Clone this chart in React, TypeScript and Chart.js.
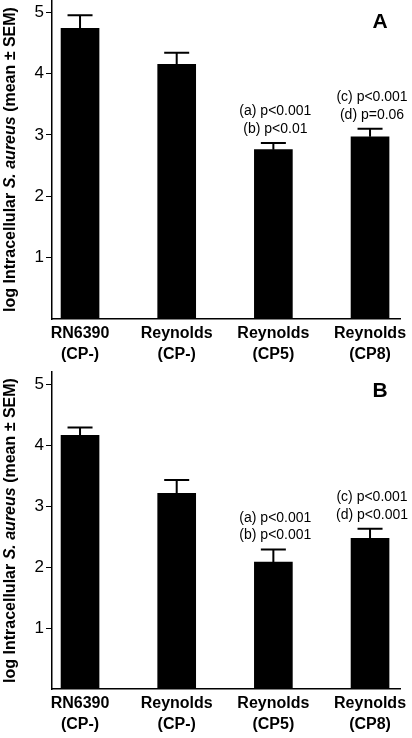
import React, { useEffect, useRef } from "react";
import { Chart, registerables } from "chart.js";

Chart.register(...registerables);

const categories: string[][] = [
  ["RN6390", "(CP-)"],
  ["Reynolds", "(CP-)"],
  ["Reynolds", "(CP5)"],
  ["Reynolds", "(CP8)"],
];
const meansA = [4.74, 4.15, 2.76, 2.97];
const semTopA = [4.95, 4.34, 2.87, 3.1];
const meansB = [4.16, 3.21, 2.08, 2.47];
const semTopB = [4.29, 3.43, 2.29, 2.63];
const yTicks = [1, 2, 3, 4, 5];
const notesA: string[][] = [[], [], ["(a) p<0.001", "(b) p<0.01"], ["(c) p<0.001", "(d) p=0.06"]];
const notesB: string[][] = [[], [], ["(a) p<0.001", "(b) p<0.001"], ["(c) p<0.001", "(d) p<0.001"]];

const FONT = '"Liberation Sans", Arial, Helvetica, sans-serif';

function makePlugin(letter: string, err: number[], notes: string[][]) {
  return {
    id: "extras" + letter,
    afterDatasetsDraw(chart: any) {
      const ctx = chart.ctx as CanvasRenderingContext2D;
      const xs = chart.scales.x;
      const ys = chart.scales.y;
      const meta = chart.getDatasetMeta(0);
      ctx.save();
      ctx.strokeStyle = "#000";
      ctx.fillStyle = "#000";
      ctx.lineWidth = 2;
      meta.data.forEach((bar: any, i: number) => {
        const x = xs.getPixelForValue(i);
        const yb = bar.y;
        const yt = ys.getPixelForValue(err[i]);
        ctx.beginPath();
        ctx.moveTo(x, yb);
        ctx.lineTo(x, yt);
        ctx.moveTo(x - 12.5, yt);
        ctx.lineTo(x + 12.5, yt);
        ctx.stroke();
        const lines = notes[i];
        ctx.font = "14px " + FONT;
        ctx.textAlign = "center";
        ctx.textBaseline = "middle";
        for (let k = 0; k < lines.length; k++) {
          const off = 14 + (lines.length - 1 - k) * 17.5;
          ctx.fillText(lines[k], x + 2, yt - off);
        }
      });
      // panel letter
      ctx.font = "bold 21px " + FONT;
      ctx.textAlign = "center";
      ctx.textBaseline = "middle";
      ctx.fillText(letter, chart.chartArea.right - 20, 22);
      // y title with mixed styles
      const segs = [
        { t: "log Intracellular ", f: "bold 16px " + FONT },
        { t: "S. aureus", f: "italic bold 16px " + FONT },
        { t: " (mean \u00b1 SEM)", f: "bold 16px " + FONT },
      ];
      let total = 0;
      segs.forEach((s) => {
        ctx.font = s.f;
        total += ctx.measureText(s.t).width;
      });
      const cy = (chart.chartArea.top + chart.chartArea.bottom) / 2;
      ctx.translate(11, cy);
      ctx.rotate(-Math.PI / 2);
      ctx.textAlign = "left";
      let px = -total / 2;
      segs.forEach((s) => {
        ctx.font = s.f;
        ctx.fillText(s.t, px, 0);
        px += ctx.measureText(s.t).width;
      });
      ctx.restore();
    },
  };
}

function Panel({ letter, means, err, notes, topPad, xHeight }: any) {
  const ref = useRef<HTMLCanvasElement>(null);
  useEffect(() => {
    const chart = new Chart(ref.current as HTMLCanvasElement, {
      type: "bar",
      data: {
        datasets: [
          {
            data: means.map((v: number, i: number) => ({ x: i, y: v })),
            backgroundColor: "#000",
            borderWidth: 0,
            barThickness: 38,
          },
        ],
      },
      options: {
        animation: false,
        responsive: false,
        devicePixelRatio: 1,
        layout: { padding: { left: 0, right: 12, top: topPad, bottom: 0 } },
        plugins: { legend: { display: false }, tooltip: { enabled: false } },
        scales: {
          x: {
            type: "linear",
            offset: false,
            min: -0.29,
            max: 3.31,
            afterBuildTicks: (s: any) => {
              s.ticks = categories.map((_, i) => ({ value: i }));
            },
            afterFit: (s: any) => {
              s.height = xHeight;
              s.paddingLeft = 0;
              s.paddingRight = 0;
            },
            grid: { display: false, drawTicks: false, offset: false },
            border: { display: true, color: "#000", width: 1.5 },
            ticks: {
              autoSkip: false,
              maxRotation: 0,
              padding: 4,
              color: "#000",
              font: { family: FONT, size: 16, weight: "bold", lineHeight: 1.3 },
              callback: (v: any) => categories[Math.round(Number(v))] as any,
            },
          },
          y: {
            min: 0,
            max: 5.2,
            afterBuildTicks: (s: any) => {
              s.ticks = yTicks.map((v) => ({ value: v }));
            },
            afterFit: (s: any) => {
              s.width = 52;
              s.paddingTop = 0;
              s.paddingBottom = 0;
            },
            grid: { display: true, drawOnChartArea: false, drawTicks: true, tickLength: 6, color: "#000", lineWidth: 1 },
            border: { display: true, color: "#000", width: 1.5 },
            ticks: {
              padding: 2,
              color: "#000",
              font: { family: FONT, size: 17 },
            },
          },
        },
      },
      plugins: [makePlugin(letter, err, notes)],
    } as any);
    return () => chart.destroy();
  }, []);
  return <canvas ref={ref} width={412} height={369} style={{ display: "block", width: 412, height: 369 }} />;
}

export default function App() {
  return (
    <div style={{ position: "absolute", left: 0, top: 0, width: 412, height: 738, background: "#fff" }}>
      <Panel letter="A" means={meansA} err={semTopA} notes={notesA} topPad={0} xHeight={50} />
      <Panel letter="B" means={meansB} err={semTopB} notes={notesB} topPad={3} xHeight={49} />
    </div>
  );
}
